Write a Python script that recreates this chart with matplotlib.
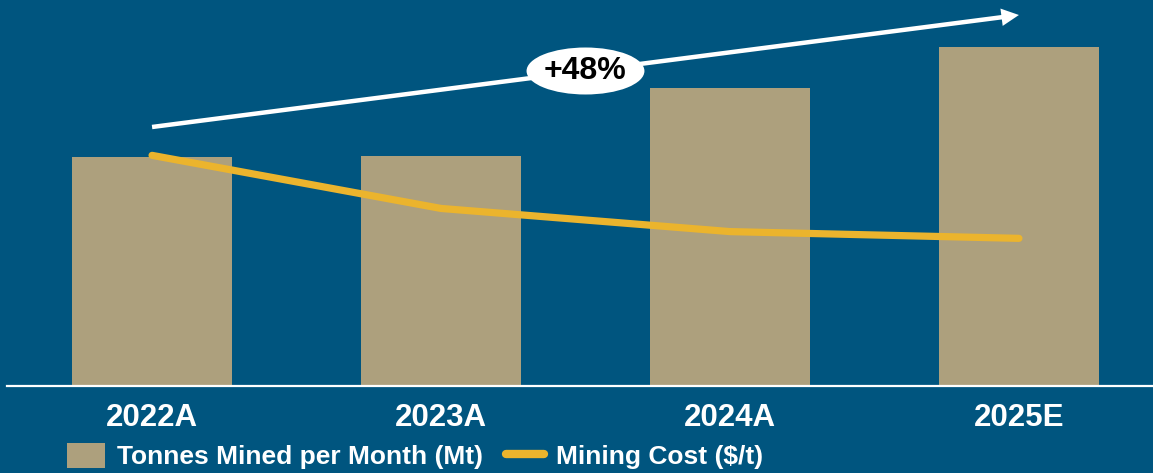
import matplotlib
matplotlib.use("Agg")
import matplotlib.pyplot as plt
from matplotlib.patches import Ellipse, Patch
from matplotlib.lines import Line2D

years = ["2022A", "2023A", "2024A", "2025E"]
tonnes_mined = [2.29, 2.30, 2.98, 3.39]     # Mt per month
mining_cost = [2.39, 1.84, 1.60, 1.53]      # $/t

bg = "#00557F"
bar_color = "#ADA07D"
line_color = "#EBB42D"
font = "Liberation Sans"

fig = plt.figure(figsize=(11.53, 4.73), dpi=100, facecolor=bg)
ax = fig.add_axes([7 / 1153, 87 / 473, 1 - 7 / 1153, 386 / 473])
ax.set_facecolor(bg)

x = list(range(len(years)))
ax.bar(x, tonnes_mined, width=0.554, color=bar_color, zorder=2)
ax.set_xlim(-0.502, 3.464)
ax.set_ylim(0, 3.86)

ax.set_xticks(x)
ax.set_xticklabels(years, family=font, fontweight="bold", fontsize=22.5, color="white")
ax.tick_params(axis="x", length=0, pad=12)
ax.set_yticks([])
for side in ["left", "right", "top"]:
    ax.spines[side].set_visible(False)
ax.spines["bottom"].set_color("white")
ax.spines["bottom"].set_linewidth(1.6)

# cost line on its own scale
ax2 = ax.twinx()
ax2.set_ylim(0, 4.0)
ax2.set_yticks([])
for side in ax2.spines:
    ax2.spines[side].set_visible(False)
ax2.plot(x, mining_cost, color=line_color, lw=5.2, solid_capstyle="round", zorder=3)

# growth arrow with label
growth = round((tonnes_mined[-1] / tonnes_mined[0] - 1) * 100)
ax.annotate("", xy=(3.0, 3.71), xytext=(0.0, 2.59),
            arrowprops=dict(arrowstyle="simple,head_length=0.9,head_width=0.9,tail_width=0.23",
                            mutation_scale=14, fc="white", ec="none", lw=0,
                            shrinkA=0, shrinkB=0), zorder=4)
ax.add_patch(Ellipse((1.5, 3.15), 0.408, 0.47, facecolor="white", edgecolor="none", zorder=5))
ax.text(1.5, 3.15, f"+{growth}%", ha="center", va="center", fontsize=23,
        fontweight="bold", family=font, color="black", zorder=6)

handles = [Patch(facecolor=bar_color, edgecolor="none"),
           Line2D([0], [0], color=line_color, lw=6, solid_capstyle="round")]
fig.legend(handles, ["Tonnes Mined per Month (Mt)", "Mining Cost ($/t)"],
           loc="center left", bbox_to_anchor=(67 / 1153, 17 / 473), ncol=2, frameon=False,
           handlelength=1.45, handleheight=1.1, handletextpad=0.45, columnspacing=0.85,
           borderpad=0, borderaxespad=0,
           prop=dict(family=font, weight="bold", size=19), labelcolor="white")

fig.savefig("out.png", dpi=100, facecolor=bg)
